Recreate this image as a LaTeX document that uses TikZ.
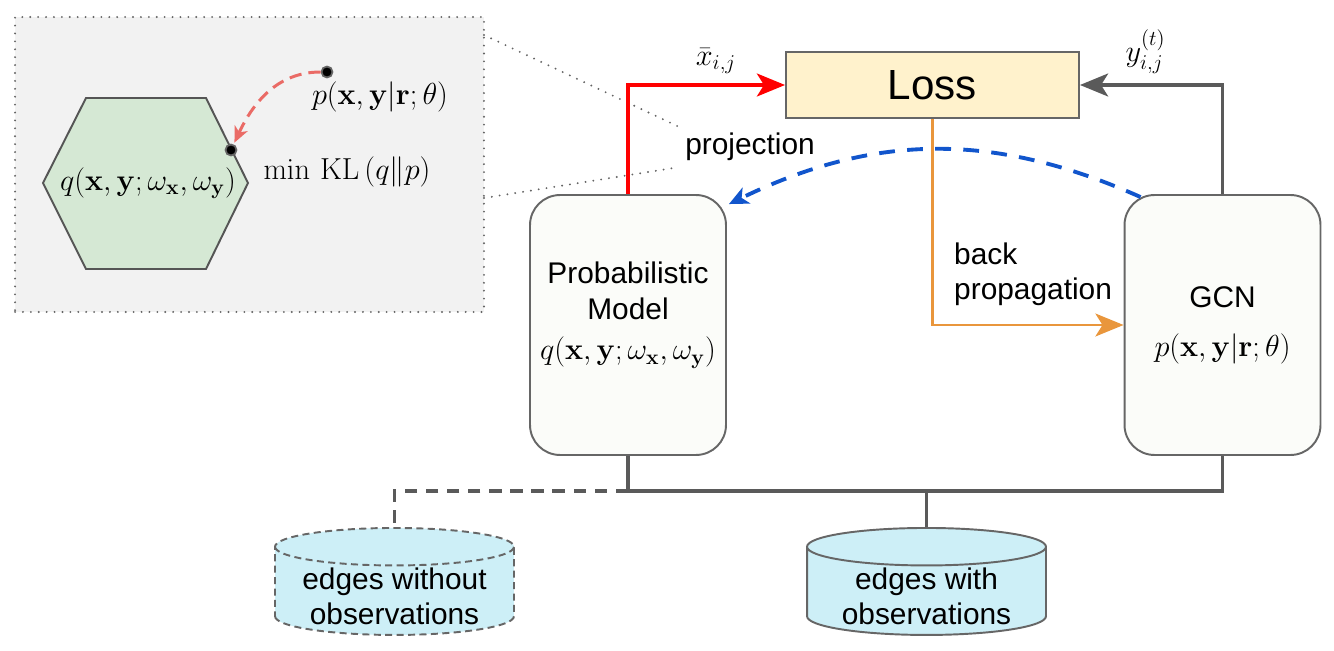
\documentclass[tikz,border=0pt]{standalone}
\usepackage{amsmath}
\usepackage[no-math]{fontspec}
\setmainfont{Liberation Sans}
\usetikzlibrary{arrows.meta,shapes.geometric,positioning}
\begin{document}
\begin{tikzpicture}[x=0.02cm, y=0.02cm, font=\fontsize{17}{20}\selectfont,
	block/.style={draw={rgb,255:red,102;green,102;blue,102}, line width=1.1pt, fill={rgb,255:red,251;green,252;blue,249}, rounded corners=0.6cm, minimum width=3.92cm, minimum height=5.2cm, align=center},
	db/.style={cylinder, shape border rotate=90, aspect=3.2, draw={rgb,255:red,102;green,102;blue,102}, line width=1.1pt, fill={rgb,255:red,205;green,239;blue,247}, minimum width=4.78cm, minimum height=2.14cm, anchor=north},
	flow/.style={line width=2.2pt, -{Stealth[length=16pt,width=13pt,inset=4pt]}},
	bus/.style={draw={rgb,255:red,90;green,90;blue,90}, line width=2.2pt},
	zoomline/.style={draw={rgb,255:red,100;green,100;blue,100}, line width=1.2pt, dash pattern=on 0pt off 4.5pt, line cap=round},
	dotnode/.style={circle, fill=black, draw={rgb,255:red,100;green,100;blue,100}, line width=1pt, inner sep=0pt, minimum size=0.22cm}]% zoomed view of the projection
	\useasboundingbox (0,0) rectangle (1334,650);
	\node[zoomline, fill={rgb,255:red,242;green,242;blue,242}, minimum width=9.38cm, minimum height=5.9cm] (inset) at (249.5,485.5) {};
	\draw[fill={rgb,255:red,213;green,232;blue,212}, draw={rgb,255:red,85;green,85;blue,85}, line width=1.1pt] (86,552) -- (206,552) -- (248,467) -- (206,381) -- (86,381) -- (43,467) -- cycle;
	\node (qhex) at (148,467) {$q(\mathbf{x},\mathbf{y};\omega_{\mathbf{x}},\omega_{\mathbf{y}})$};
	\node[dotnode] (qdot) at (231,500) {};
	\node[dotnode] (pdot) at (327,578) {};
	\node (plabel) at (380,553) {$p(\mathbf{x},\mathbf{y}|\mathbf{r};\theta)$};
	\node (kl) at (347,478) {$\min\,\mathrm{KL}\left(q\|p\right)$};
	\draw[color={rgb,255:red,234;green,107;blue,102}, line width=1.7pt, dash pattern=on 7pt off 4pt, -{Stealth[length=9pt,width=8pt,inset=2.5pt]}, shorten >=1pt] (pdot) to[out=180, in=65] (qdot);
	% main loop
	\node (proj) at (750,503) {projection};
	\coordinate (zt) at (484,615);
	\coordinate (zb) at (484,452);
	\draw[zoomline] (zt) -- (proj.north west);
	\draw[zoomline] (zb) -- (proj.south west);
	\node[draw={rgb,255:red,102;green,102;blue,102}, line width=1.1pt, fill={rgb,255:red,255;green,242;blue,204}, minimum width=5.86cm, minimum height=1.32cm, font=\fontsize{24}{28}\selectfont] (loss) at (932.5,565) {Loss};
	\node[block] (prob) at (628,325) {Probabilistic\\Model\\[3pt]$q(\mathbf{x},\mathbf{y};\omega_{\mathbf{x}},\omega_{\mathbf{y}})$\\[-4pt]\mbox{}};
	\node[block] (gcn) at (1222.5,325) {GCN\\[8pt]$p(\mathbf{x},\mathbf{y}|\mathbf{r};\theta)$};
	\draw[flow, red] (prob.north) |- (loss.west) node[pos=0.78, above=2pt, black] {$\bar{x}_{i,j}$};
	\draw[flow, color={rgb,255:red,90;green,90;blue,90}] (gcn.north) |- (loss.east) node[pos=0.77, above=2pt, black] {$y^{(t)}_{i,j}$};
	\draw[flow, line width=1.7pt, color={rgb,255:red,233;green,150;blue,60}] (loss.south) |- (gcn.west);
	\node[align=left, anchor=west] (bp) at (948,376) {back\\propagation};
	\draw[color={rgb,255:red,17;green,85;blue,204}, line width=2.2pt, dash pattern=on 9pt off 7pt, -{Stealth[length=11pt,width=10pt,inset=3pt]}] ([xshift=0.34cm,yshift=-0.06cm]gcn.north west) to[bend right=25] ([xshift=0.04cm,yshift=-0.2cm]prob.north east);
	% data sources
	\node[db, dash pattern=on 4pt off 2.5pt] (dbo) at (394.5,123) {};
	\node[db] (dbw) at (926.5,123) {};
	\node[align=center] (dbotext) at (394.5,54) {edges without\\observations};
	\node[align=center] (dbwtext) at (926.5,54) {edges with\\observations};
	\draw[bus] (prob.south) -- ++(0,-35) coordinate (bl) -| (gcn.south);
	\draw[bus] (dbw.north) -- (dbw.north |- bl);
	\draw[bus, dash pattern=on 7pt off 5pt] (bl) -| (dbo.north);
\end{tikzpicture}
\end{document}
